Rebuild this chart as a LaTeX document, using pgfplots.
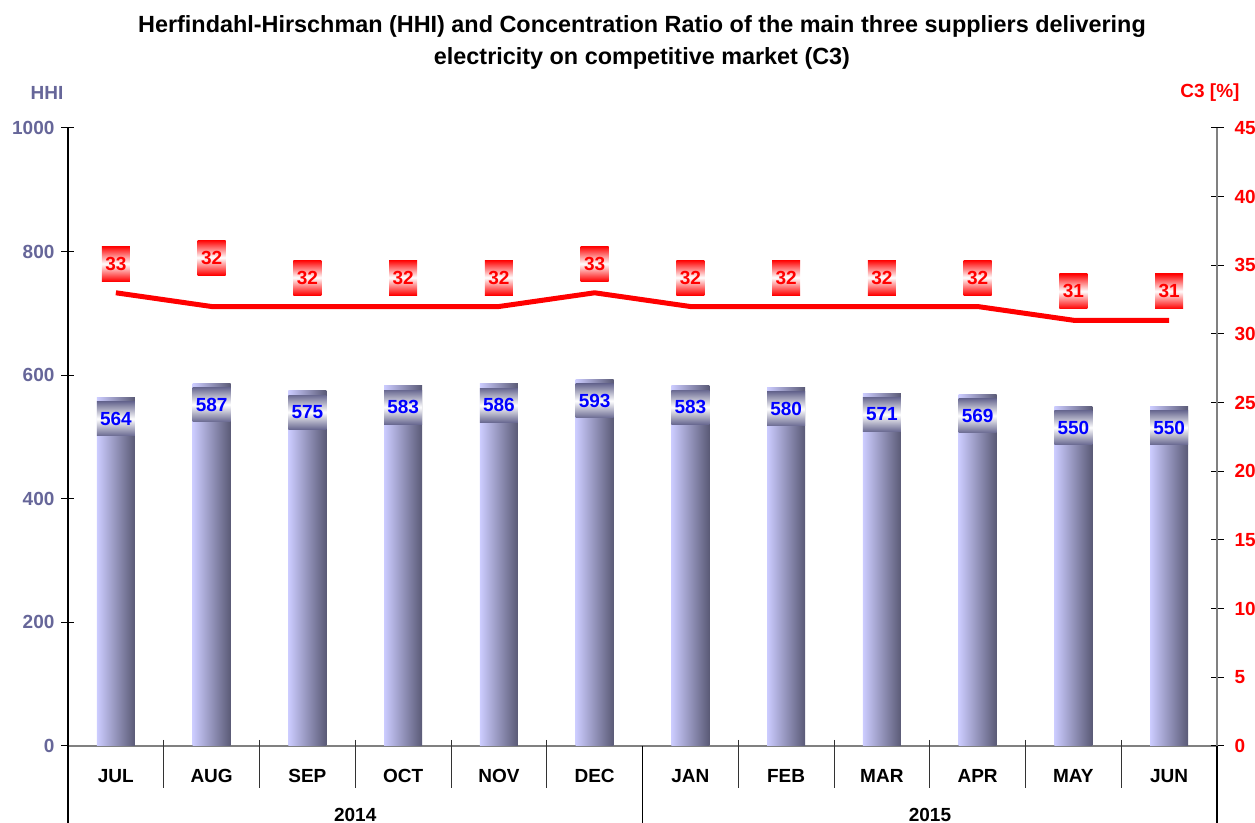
\documentclass[border=0pt]{standalone}
\usepackage{fontspec}
\setmainfont{Liberation Sans}
\usepackage{pgfplots}
\usepackage{pgfplotstable}
\pgfplotsset{compat=1.18}
\pgfplotsset{/pgf/number format/assume math mode=true}

\definecolor{hhicol}{RGB}{102,102,153}
\definecolor{barL}{RGB}{204,204,255}
\definecolor{barR}{RGB}{90,90,118}
\definecolor{lblD}{RGB}{105,105,145}
\definecolor{axgray}{RGB}{128,128,128}

% x, month, HHI, C3 [%], label lift (pt)
\pgfplotstableread{
x mon hhi c3 sh
0  JUL 564 33 4.5
1  AUG 587 32 14.5
2  SEP 575 32 4.5
3  OCT 583 32 4.5
4  NOV 586 32 4.5
5  DEC 593 33 4.5
6  JAN 583 32 4.5
7  FEB 580 32 4.5
8  MAR 571 32 4.5
9  APR 569 32 4.5
10 MAY 550 31 4.5
11 JUN 550 31 4.5
}\data

\begin{document}
\begin{tikzpicture}
\pgfplotsset{
  common/.style={
    at={(0,0)}, anchor=south west,
    scale only axis, width=574.5pt, height=309pt,
    xmin=-0.5, xmax=11.5,
    clip=false,
    tick align=center, major tick length=6.5pt,
    tick style={black, line width=0.5pt},
    axis line style={axgray, line width=1pt},
    ticklabel style={font=\fontsize{9.5}{11}\selectfont\bfseries},
    /pgf/number format/1000 sep={},
  }
}
\begin{axis}[common,
  ymin=0, ymax=1000, ytick={0,200,...,1000},
  axis x line*=bottom, axis y line*=left,
  y axis line style={black, line width=0.75pt},
  xtick={0,...,11}, xticklabels from table={\data}{mon},
  xtick style={draw=none},
  xticklabel style={yshift=-5pt},
  yticklabel style={text=hhicol},
]
% one plot per month so that every bar gets its own shading
\pgfplotsinvokeforeach{0,...,11}{
\addplot[ybar, bar width=19pt, bar shift=0pt, draw=none,
  left color=barL, right color=barR,
  restrict x to domain=#1:#1,
  nodes near coords,
  every node near coord/.append style={anchor=north, yshift=-2pt, inner sep=0pt,
    minimum width=19pt, minimum height=17pt, text=blue,
    font=\fontsize{9.5}{11}\selectfont\bfseries,
    top color=lblD, bottom color=lblD, middle color=white}]
  table[x=x, y=hhi] {\data};
}
\end{axis}

\begin{axis}[common,
  ymin=0, ymax=45, ytick={0,5,...,45},
  axis y line*=right, axis x line=none,
  yticklabel style={text=red, xshift=2pt},
]
\addplot[red, line width=2.5pt, no marks,
  nodes near coords,
  visualization depends on={\thisrow{sh} \as \sh},
  every node near coord/.append style={anchor=south, yshift=\sh,
    inner sep=0pt, minimum width=14pt, minimum height=17.5pt, text=red,
    font=\fontsize{9.5}{11}\selectfont\bfseries,
    top color=red, bottom color=red, middle color=white}]
  table[x=x, y=c3] {\data};
\end{axis}

% category separators below the axis
\foreach \k in {1,...,5,7,8,9,10,11}
  \draw[black!80, line width=0.5pt] (\k*47.875pt, 3pt) -- (\k*47.875pt, -21pt);
\foreach \k in {0,6,12}
  \draw[black, line width=0.6pt] (\k*47.875pt, 0pt) -- (\k*47.875pt, -38.5pt);
\node[font=\fontsize{9.5}{11}\selectfont\bfseries] at (143.6pt, -34.5pt) {2014};
\node[font=\fontsize{9.5}{11}\selectfont\bfseries] at (431pt, -34.5pt) {2015};

% titles
\node[align=center, font=\fontsize{11.7}{16}\selectfont\bfseries] at (287pt, 352pt)
  {Herfindahl-Hirschman (HHI) and Concentration Ratio of the main three suppliers delivering\\electricity on competitive market (C3)};
\node[text=hhicol, font=\fontsize{9.5}{11}\selectfont\bfseries] at (-10.5pt, 326.5pt) {HHI};
\node[text=red, font=\fontsize{9.5}{11}\selectfont\bfseries] at (571pt, 326.5pt) {C3 [\%]};

\pgfresetboundingbox
\path (-34pt, -38.5pt) rectangle (593.5pt, 373pt);
\end{tikzpicture}
\end{document}
